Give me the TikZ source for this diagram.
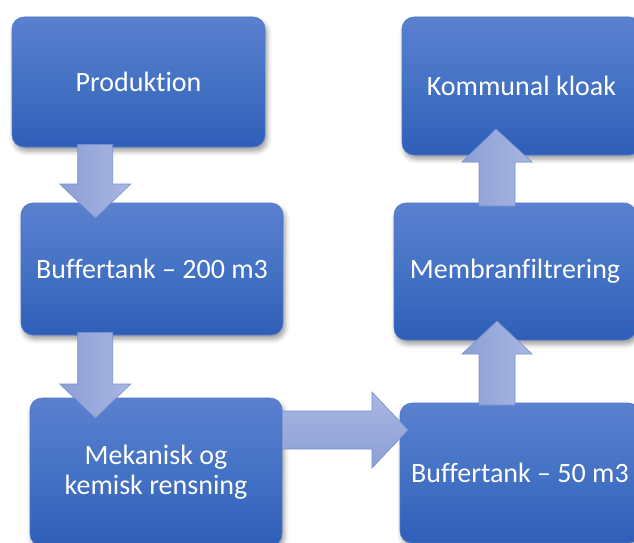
\documentclass[tikz,border=0pt]{standalone}
\usepackage{fontspec}
\setmainfont{Carlito}[Ligatures=NoCommon]
\usetikzlibrary{calc,shadows.blur}

\definecolor{boxtop}{HTML}{5B80D0}
\definecolor{boxmid}{HTML}{4472C4}
\definecolor{boxbot}{HTML}{2F5EB9}
\definecolor{boxline}{HTML}{4F76C8}
\definecolor{arrowdark}{HTML}{8C9FD6}
\definecolor{arrowlight}{HTML}{A8B6E1}
\definecolor{arrowline}{HTML}{7890D0}

\tikzset{
  stagebox/.style={
    rectangle, rounded corners=12pt, draw=boxline, line width=0.6pt,
    top color=boxtop, bottom color=boxbot, middle color=boxmid,
    text=white, align=center, font=\fontsize{28}{30}\selectfont,
    blur shadow={shadow xshift=2pt, shadow yshift=-4pt, shadow blur radius=5pt, shadow opacity=40},
    inner sep=0pt},
  blockarrow/.style={draw=arrowline, line width=0.6pt, left color=arrowdark, right color=arrowlight},
  blockarrowh/.style={draw=arrowline, line width=0.6pt, top color=arrowlight, bottom color=arrowdark}
}

% block arrows between named coordinates (tail, tip)
\newcommand\blockdown[2]{\path[blockarrow] let \p1=(#1), \p2=(#2) in
  (\x1-17.5pt,\y1) -- (\x1-17.5pt,\y2+34pt) -- (\x1-35.5pt,\y2+34pt) -- (\x2,\y2)
  -- (\x1+35.5pt,\y2+34pt) -- (\x1+17.5pt,\y2+34pt) -- (\x1+17.5pt,\y1) -- cycle;}
\newcommand\blockup[2]{\path[blockarrow] let \p1=(#1), \p2=(#2) in
  (\x1-18pt,\y1) -- (\x1-18pt,\y2-33pt) -- (\x1-35pt,\y2-33pt) -- (\x2,\y2)
  -- (\x1+35pt,\y2-33pt) -- (\x1+18pt,\y2-33pt) -- (\x1+18pt,\y1) -- cycle;}
\newcommand\blockright[2]{\path[blockarrowh] let \p1=(#1), \p2=(#2) in
  (\x1,\y1+19pt) -- (\x2-36pt,\y1+19pt) -- (\x2-36pt,\y1+38pt) -- (\x2,\y2)
  -- (\x2-36pt,\y1-38pt) -- (\x2-36pt,\y1-19pt) -- (\x1,\y1-19pt) -- cycle;}

\begin{document}
\begin{tikzpicture}[x=1pt,y=-1pt]
\useasboundingbox (0,0) rectangle (634,543);
\clip (0,0) rectangle (634,543);

% process stages
\node[stagebox, minimum width=253pt, minimum height=130pt] (prod) at (138.5,82) {Produktion};
\node[stagebox, minimum width=262pt, minimum height=132pt] (buf1) at (152,269) {Buffertank -- 200 m3};
\node[stagebox, minimum width=252pt, minimum height=148pt] (mek) at (156,472) {Mekanisk og\\kemisk rensning};
\node[stagebox, minimum width=240pt, minimum height=140pt] (buf2) at (520,473) {Buffertank -- 50 m3};
\node[stagebox, minimum width=242pt, minimum height=137pt] (memb) at (515,271.5) {Membranfiltrering};
\node[stagebox, minimum width=239pt, minimum height=138pt] (kloak) at (521.5,86) {Kommunal kloak};

% arrow ends
\coordinate (t1) at ($(prod.south west)+(83.5,-3)$);
\coordinate (h1) at (95.5,218);
\coordinate (t2) at ($(buf1.south west)+(74.5,-3)$);
\coordinate (h2) at (95.5,418);
\coordinate (t3) at (mek.east |- 0,430);
\coordinate (h3) at (408,430);
\coordinate (t4) at (497,405);
\coordinate (h4) at (497,321);
\coordinate (t5) at (497,206);
\coordinate (h5) at (496,129);

\blockdown{t1}{h1}
\blockdown{t2}{h2}
\blockright{t3}{h3}
\blockup{t4}{h4}
\blockup{t5}{h5}
\end{tikzpicture}
\end{document}
